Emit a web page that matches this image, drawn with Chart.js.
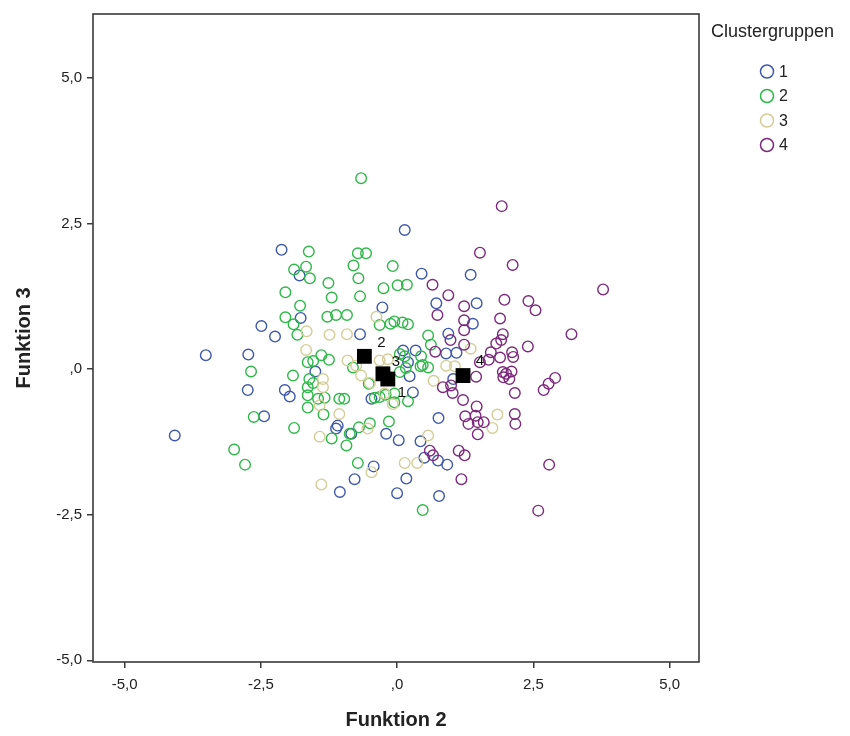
<!DOCTYPE html>
<html>
<head>
<meta charset="utf-8">
<script src="https://cdn.jsdelivr.net/npm/chart.js@4/dist/chart.umd.min.js"></script>
<style>
html,body{margin:0;padding:0;background:#fff;}
#wrap{width:850px;height:736px;}
</style>
</head>
<body>
<div id="wrap"><canvas id="c" width="850" height="736"></canvas></div>
<script>
// ---- data ----
const clusterNames = ['1', '2', '3', '4'];
const legendTitle = 'Clustergruppen';
const xTitle = 'Funktion 2';
const yTitle = 'Funktion 3';
const xTicks = [-5, -2.5, 0, 2.5, 5];
const yTicks = [-5, -2.5, 0, 2.5, 5];

const cluster1X = [-2.12,-1.79,-0.27,-1.77,-2.49,-2.24,-0.68,-3.51,-2.73,0.14,0.45,1.35,0.72,1.46,1.39,0.94,0.90,1.09,0.34,0.11,0.20,0.29,0.76,-0.20,0.03,0.43,0.50,0.75,0.92,-0.43,-0.78,0.17,0.00,0.77,-0.84,-1.50,-2.74,-2.06,-1.97,-1.09,-1.12,-4.08,-1.05,-0.47,0.23,1.03,-2.44];
const cluster1Y = [2.05,1.61,1.06,0.88,0.74,0.56,0.60,0.24,0.25,2.39,1.64,1.62,1.13,1.13,0.78,0.61,0.27,0.28,0.32,0.32,0.12,-0.40,-0.84,-1.11,-1.22,-1.24,-1.52,-1.57,-1.64,-1.67,-1.89,-1.88,-2.13,-2.18,-1.11,-0.04,-0.36,-0.36,-0.47,-0.97,-1.02,-1.14,-2.11,-0.51,-0.12,-0.17,-0.81];

const cluster2X = [-0.66,-1.62,-0.72,-0.57,-1.89,-1.67,-1.60,-0.80,-0.08,-1.26,-0.71,-0.25,0.01,0.18,-2.05,-1.20,-0.68,-1.78,-2.05,-1.90,-1.28,-1.12,-0.92,-0.32,-0.12,-0.05,0.10,0.20,-1.83,-1.54,-1.39,-1.25,0.57,0.62,0.14,0.44,0.47,0.05,0.57,0.43,0.16,0.05,-0.81,-1.64,-2.68,-1.91,-1.61,-1.54,-1.64,-1.64,-1.64,-1.33,-1.35,-1.06,-0.97,-1.45,-0.87,-0.93,-1.20,-0.70,-0.50,-2.63,-1.89,-2.99,-2.79,-0.72,-0.15,-0.52,-0.21,-0.05,-0.41,-0.32,-0.05,0.20,0.47];
const cluster2Y = [3.28,2.02,1.99,1.99,1.71,1.76,1.56,1.78,1.77,1.48,1.56,1.39,1.44,1.45,1.32,1.23,1.25,1.09,0.89,0.77,0.90,0.93,0.93,0.76,0.78,0.82,0.80,0.77,0.59,0.14,0.24,0.16,0.58,0.42,0.22,0.22,0.07,0.26,0.03,0.05,0.02,-0.05,0.03,0.12,-0.04,-0.11,-0.17,-0.24,-0.31,-0.45,-0.66,-0.49,-0.78,-0.51,-0.51,-0.51,-1.11,-1.31,-1.19,-1.00,-0.93,-0.82,-1.01,-1.38,-1.64,-1.61,-0.90,-0.25,-0.44,-0.42,-0.49,-0.48,-0.57,-0.55,-2.42];

const cluster3X = [-0.38,-1.66,-1.24,-0.92,-1.67,-0.91,-0.32,-0.17,1.35,0.90,1.06,1.84,1.75,0.57,0.14,0.37,-0.47,-1.39,-0.08,-0.23,-0.50,-0.66,-0.75,0.67,-1.36,-1.36,-1.42,-1.06,-1.42,-0.54];
const cluster3Y = [0.90,0.65,0.59,0.60,0.33,0.15,0.15,0.17,0.35,0.06,0.05,-0.78,-1.01,-1.14,-1.61,-1.61,-1.77,-1.98,-0.60,-0.42,-0.24,-0.11,0.06,-0.20,-0.17,-0.31,-0.62,-0.77,-1.16,-1.02];

const cluster4X = [1.92,1.52,2.12,0.65,0.94,3.78,1.23,1.97,2.41,2.54,0.74,1.23,1.89,1.23,3.20,1.94,1.91,1.82,0.98,1.23,2.40,0.70,1.72,1.89,2.11,2.13,1.52,1.68,0.84,1.02,1.21,1.45,1.95,2.00,2.10,2.16,2.69,2.78,2.90,1.46,1.25,1.31,1.44,1.48,1.59,1.48,2.16,2.17,1.13,1.24,1.18,2.79,2.59,0.60,0.66,0.99,2.06,1.94];
const cluster4Y = [2.80,2.00,1.79,1.45,1.27,1.37,1.08,1.19,1.17,1.01,0.93,0.84,0.87,0.67,0.60,0.60,0.50,0.44,0.50,0.42,0.39,0.30,0.29,0.20,0.29,0.21,0.12,0.16,-0.31,-0.41,-0.53,-0.13,-0.14,-0.08,-0.04,-0.41,-0.36,-0.25,-0.15,-0.64,-0.81,-0.94,-0.80,-0.91,-0.91,-1.12,-0.77,-0.94,-1.40,-1.48,-1.89,-1.64,-2.43,-1.40,-1.48,-0.28,-0.17,-0.05];

const centroidNames = ['1', '2', '3', '4'];
const centroidX = [-0.17, -0.60, -0.26, 1.21];
const centroidY = [-0.17, 0.22, -0.08, -0.11];

// ---- styling ----
const clusterColors = ['#3E58AC', '#2EB848', '#D3CE97', '#7C287D'];
const FONT = "'Liberation Sans', Arial, sans-serif";
const centroidLabelOffsets = [[14, 14], [17, -13], [13, -12], [17, -15]];

function toPoints(xs, ys) { return xs.map((x, i) => ({ x: x, y: ys[i] })); }
function fmt(v) {
  if (v === 0) return ',0';
  return v.toFixed(1).replace('.', ',');
}

const clusterXs = [cluster1X, cluster2X, cluster3X, cluster4X];
const clusterYs = [cluster1Y, cluster2Y, cluster3Y, cluster4Y];

const datasets = [{
  label: 'Centroids',
  data: toPoints(centroidX, centroidY),
  pointStyle: 'rect',
  pointRadius: 10.5,
  pointHoverRadius: 10.5,
  backgroundColor: '#000',
  borderColor: '#000',
  borderWidth: 0,
  order: 0
}];
for (let k = 3; k >= 0; k--) {
  datasets.push({
    label: clusterNames[k],
    data: toPoints(clusterXs[k], clusterYs[k]),
    pointStyle: 'circle',
    pointRadius: 5.3,
    pointHoverRadius: 5.3,
    backgroundColor: 'rgba(0,0,0,0)',
    borderColor: clusterColors[k],
    borderWidth: 1.4,
    order: 4 - k
  });
}

const framePlugin = {
  id: 'frame',
  afterDatasetsDraw(chart) {
    const ctx = chart.ctx, a = chart.chartArea;
    const xs = chart.scales.x, ys = chart.scales.y;
    ctx.save();
    // centroid labels
    ctx.fillStyle = '#111';
    ctx.font = '15px ' + FONT;
    ctx.textAlign = 'center';
    ctx.textBaseline = 'middle';
    centroidNames.forEach((n, i) => {
      const px = xs.getPixelForValue(centroidX[i]) + centroidLabelOffsets[i][0];
      const py = ys.getPixelForValue(centroidY[i]) + centroidLabelOffsets[i][1];
      ctx.fillText(n, px, py);
    });
    // frame
    ctx.strokeStyle = '#3a3a3a';
    ctx.lineWidth = 1.6;
    ctx.strokeRect(a.left, a.top, a.right - a.left, a.bottom - a.top);
    // legend
    ctx.fillStyle = '#222';
    ctx.font = '18px ' + FONT;
    ctx.textAlign = 'left';
    ctx.fillText(legendTitle, 711, 32);
    clusterNames.forEach((n, i) => {
      const y = 71.5 + i * 24.5;
      ctx.beginPath();
      ctx.arc(767, y, 6.5, 0, Math.PI * 2);
      ctx.strokeStyle = clusterColors[i];
      ctx.lineWidth = 1.5;
      ctx.stroke();
      ctx.fillStyle = '#222';
      ctx.font = '16px ' + FONT;
      ctx.fillText(n, 779, y + 1);
    });
    ctx.restore();
  }
};

new Chart(document.getElementById('c'), {
  type: 'scatter',
  data: { datasets: datasets },
  options: {
    responsive: false,
    animation: false,
    devicePixelRatio: 1,
    layout: { padding: { left: 0, right: 151, top: 12, bottom: 0 } },
    plugins: { legend: { display: false }, tooltip: { enabled: false } },
    scales: {
      x: {
        type: 'linear',
        min: -5.58, max: 5.54,
        afterBuildTicks: s => { s.ticks = xTicks.map(v => ({ value: v })); },
        afterFit: s => { s.height = 74; },
        border: { display: false },
        grid: { display: true, drawOnChartArea: false, drawTicks: true, tickLength: 6, color: '#3a3a3a', lineWidth: 1.5 },
        ticks: { callback: v => fmt(v), font: { family: FONT, size: 15 }, color: '#222', padding: 8, maxRotation: 0 },
        title: { display: true, text: xTitle, font: { family: FONT, size: 20, weight: 'bold' }, color: '#222', padding: { top: 0, bottom: 4 } }
      },
      y: {
        type: 'linear',
        min: -5.03, max: 6.1,
        afterBuildTicks: s => { s.ticks = yTicks.map(v => ({ value: v })); },
        afterFit: s => { s.width = 93; },
        border: { display: false },
        grid: { display: true, drawOnChartArea: false, drawTicks: true, tickLength: 6, color: '#3a3a3a', lineWidth: 1.5 },
        ticks: { callback: v => fmt(v), font: { family: FONT, size: 15 }, color: '#222', padding: 5 },
        title: { display: true, text: yTitle, font: { family: FONT, size: 20, weight: 'bold' }, color: '#222', padding: { top: 12, bottom: 0 } }
      }
    }
  },
  plugins: [framePlugin]
});
</script>
</body>
</html>
